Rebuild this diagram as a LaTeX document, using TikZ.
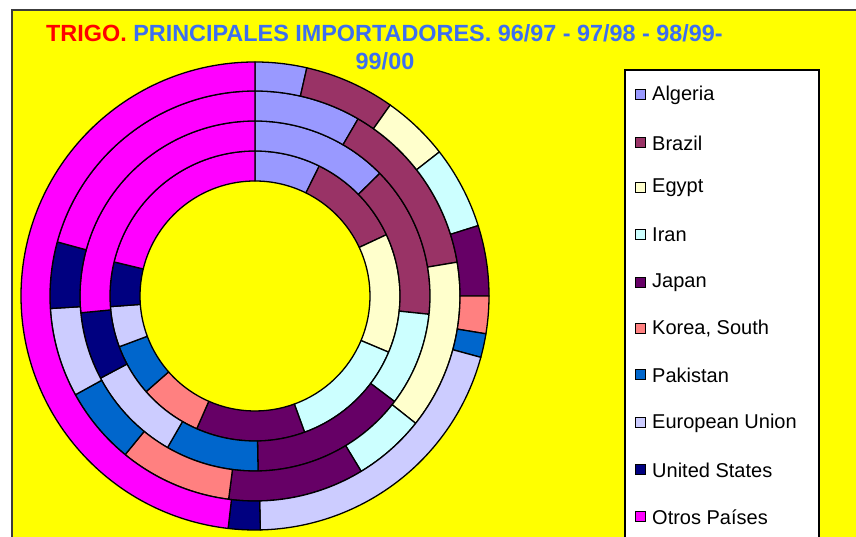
\documentclass[tikz,border=0pt]{standalone}
\usepackage{fontspec}
\setmainfont{Liberation Sans}
\definecolor{cAlg}{HTML}{9999FF}
\definecolor{cBra}{HTML}{993366}
\definecolor{cEgy}{HTML}{FFFFCC}
\definecolor{cIra}{HTML}{CCFFFF}
\definecolor{cJap}{HTML}{660066}
\definecolor{cKor}{HTML}{FF8080}
\definecolor{cPak}{HTML}{0066CC}
\definecolor{cEU}{HTML}{CCCCFF}
\definecolor{cUS}{HTML}{000080}
\definecolor{cOth}{HTML}{FF00FF}
\definecolor{bgyellow}{HTML}{FFFF00}
\definecolor{titleblue}{RGB}{60,110,240}
\definecolor{framegray}{RGB}{60,60,60}
\newcommand\dseg[5]{%
  \filldraw[fill=#5, segline] ({90-#1}:#3pt) arc[start angle={90-#1}, end angle={90-#2}, radius=#3pt]
    -- ({90-#2}:#4pt) arc[start angle={90-#2}, end angle={90-#1}, radius=#4pt] -- cycle;}
\begin{document}
\begin{tikzpicture}[x=1pt,y=1pt,
  segline/.style={draw=black, line width=1.3pt, line join=round},
  legsq/.style={draw=black, line width=1pt, minimum size=10pt, inner sep=0pt},
  legtext/.style={anchor=west, inner sep=0pt, font=\fontsize{20}{24}\selectfont}]
\useasboundingbox (0,0) rectangle (856,537);
% frame
\fill[bgyellow] (12,0) rectangle (856,527);
\draw[framegray, line width=2pt] (12,-5) -- (12,527) -- (861,527);
% title
\node[anchor=base west, inner sep=0pt, font=\bfseries\fontsize{23.4}{28}\selectfont] (title1) at (46,495)
  {\textcolor{red}{TRIGO.} \textcolor{titleblue}{PRINCIPALES IMPORTADORES. 96/97 - 97/98 - 98/99-}};
\node[anchor=base, inner sep=0pt, font=\bfseries\fontsize{23.4}{28}\selectfont, text=titleblue] (title2) at (385,467) {99/00};
% doughnut
\begin{scope}[shift={(255,241)}]
\foreach \a/\b/\c in {0/26.3/cAlg, 26.3/65/cBra, 65/112.8/cEgy, 112.8/160/cIra, 160/203.7/cJap,
   203.7/228.7/cKor, 228.7/249.5/cPak, 249.5/265.8/cEU, 265.8/283.6/cUS, 283.6/360/cOth}
  {\dseg{\a}{\b}{115}{145}{\c}}
\foreach \a/\b/\c in {0/45.5/cAlg, 45.5/96/cBra, 96/127.1/cIra, 127.1/179/cJap,
   179/210/cPak, 210/242/cEU, 242/264.5/cUS, 264.5/360/cOth}
  {\dseg{\a}{\b}{145}{175}{\c}}
\foreach \a/\b/\c in {0/30.2/cAlg, 30.2/80.5/cBra, 80.5/128.4/cEgy, 128.4/148.8/cIra, 148.8/187.4/cJap,
   187.4/219.3/cKor, 219.3/241.2/cPak, 241.2/266.5/cEU, 266.5/285.3/cUS, 285.3/360/cOth}
  {\dseg{\a}{\b}{175}{205}{\c}}
\foreach \a/\b/\c in {0/12.8/cAlg, 12.8/35.3/cBra, 35.3/52/cEgy, 52/72.5/cIra, 72.5/90/cJap,
   90/99.3/cKor, 99.3/105.2/cPak, 105.2/178.7/cEU, 178.7/186.6/cUS, 186.6/360/cOth}
  {\dseg{\a}{\b}{205}{234}{\c}}
\end{scope}
% legend
\draw[fill=white, line width=1.5pt] (625,-10) rectangle (819,467);
\foreach \n/\y/\c/\t in {alg/95/cAlg/Algeria, bra/143/cBra/Brazil, egy/188/cEgy/Egypt, ira/235/cIra/Iran,
   jap/283/cJap/Japan, kor/329/cKor/{Korea, South}, pak/375/cPak/Pakistan, eu/423/cEU/European Union,
   us/470/cUS/United States, oth/517/cOth/Otros Países}
{
  \node[legsq, fill=\c] (sq\n) at (640.5,537-\y) {};
  \node[legtext] (lt\n) at (652,537-\y) {\t};
}
\end{tikzpicture}
\end{document}
